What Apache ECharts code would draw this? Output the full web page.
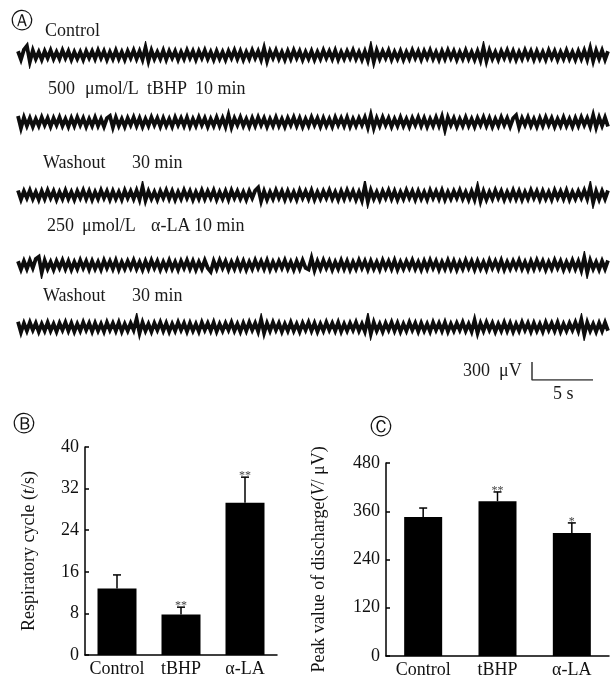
<!DOCTYPE html>
<html>
<head>
<meta charset="utf-8">
<script src="https://cdn.jsdelivr.net/npm/echarts@6/dist/echarts.min.js"></script>
<style>html,body{margin:0;padding:0;background:#fff;}#c{width:612px;height:681px;}</style>
</head>
<body>
<div id="c"></div>
<script>
// ---------- Panel A: recorded discharge traces (hand-read amplitude samples) ----------
const traceControl = [5,-6,7,12,-9,6,-5,4,-6,5,-4,6,-5,4,-5,6,-4,5,-6,4,
 -5,4,-6,5,-4,5,-5,6,-4,5,-6,4,-5,6,-5,4,-6,5,-4,6,
 -5,5,-6,10,-8,6,-5,4,-5,6,-6,5,-4,5,-6,4,-5,6,-4,5,
 -6,5,-4,6,-5,4,-6,5,-5,4,-6,5,-4,6,-5,5,-6,4,-5,6,
 -4,5,-6,9,-8,5,-4,6,-5,4,-6,5,-5,6,-4,5,-6,4,-5,5,
 -6,4,-5,6,-4,5,-5,6,-6,4,-5,5,-4,6,-5,4,-6,5,-7,10,
 -9,6,-5,5,-4,6,-6,4,-5,5,-6,4,-5,6,-4,5,-6,5,-4,6,
 -5,4,-6,5,-5,6,-4,5,-6,4,-5,6,-5,4,-6,5,-7,10,-8,6,
 -5,4,-6,5,-4,6,-5,5,-6,4,-5,6,-4,5,-6,5,-5,4,-6,6,
 -4,5,-6,4,-5,6,-5,4,-6,5,-5,6,-6,9,-8,6,-5,6,-6,5];
const traceTBHP = [8,-8,6,-5,5,-6,4,-5,6,-4,5,-6,5,-4,6,-5,4,-6,5,-5,
 6,-4,5,-6,4,-5,6,-5,4,-6,5,8,-7,6,-5,4,-6,5,-4,6,
 -5,5,-6,4,-5,6,-4,5,-6,5,-5,4,-6,6,-4,5,-5,6,-6,4,
 -5,6,-4,5,-6,4,-5,6,-5,5,-6,9,-7,5,-4,6,-5,4,-6,5,
 -5,6,-4,5,-6,4,-5,6,-5,4,-6,5,-4,6,-5,5,-6,4,-5,6,
 -4,5,-6,5,-5,4,-6,6,-4,5,-5,6,-6,4,-5,5,-4,6,-7,9,
 -8,5,-5,6,-4,5,-6,4,-5,6,-5,4,-6,5,-4,6,-5,5,-6,4,
 -5,6,-5,7,-10,6,-4,5,-6,4,-5,6,-5,4,-6,5,-4,6,-5,5,
 -6,4,-5,6,-4,5,-6,5,9,-7,5,-4,6,-5,4,-6,5,-5,6,-4,
 5,-6,4,-5,6,-5,4,-6,5,-5,6,-4,5,-6,9,-7,6,-5,6,-6];
const traceWash1 = [6,-6,5,-4,6,-5,4,-6,5,-5,6,-4,5,-6,4,-5,6,-5,4,-6,
 5,-4,6,-5,5,-6,4,-5,6,-4,5,-6,5,-5,4,-6,6,-4,5,-5,
 6,-6,11,-7,5,-5,4,-6,5,-4,6,-5,5,-6,4,-5,6,-4,5,-6,
 4,-5,6,-5,5,-4,6,-6,4,-5,5,-6,6,-4,5,-5,4,-6,5,-4,
 6,10,-8,5,-6,4,-5,6,-4,5,-6,5,-5,4,-6,6,-4,5,-5,6,
 -6,4,-5,5,-4,6,-5,4,-6,5,-5,6,-4,5,-6,4,-7,12,-9,6,
 -5,4,-6,5,-4,6,-5,5,-6,4,-5,6,-4,5,-6,5,-5,4,-6,6,
 -4,5,-5,6,-6,4,-5,5,-4,6,-5,4,-6,5,-6,10,-8,5,-6,4,
 -5,6,-4,5,-6,4,-5,6,-5,5,-6,4,-5,6,-4,5,-6,5,-5,4,
 -6,6,-4,5,-5,6,-6,4,-5,5,-4,6,-5,11,-10,5,-6,5,-5,6];
const traceALA = [5,-6,5,-5,6,-4,8,11,-10,6,-5,4,-6,5,-4,6,-5,5,-6,4,
 -5,6,-4,5,-6,5,-5,4,-6,6,-4,5,-5,6,-6,4,-5,5,-4,6,
 -5,4,-6,5,-5,6,-4,5,-6,4,-5,6,-5,4,-6,5,-4,6,-5,5,
 -6,4,-5,6,-4,-9,5,-5,6,-4,5,-6,4,-5,6,-5,5,-6,4,-5,
 6,-4,5,-5,6,-6,4,-5,5,-4,6,-5,4,-6,5,-5,6,-4,-6,9,
 -7,5,-5,6,-4,5,-6,4,-5,6,-5,5,-6,4,-5,6,-4,5,-6,5,
 -5,4,-6,6,-4,5,-5,6,-6,4,-5,5,-4,6,-5,4,-6,5,-5,6,
 -4,5,-6,4,-5,6,-5,5,-6,4,-5,6,-4,5,-6,5,-5,4,-6,6,
 -4,5,-5,6,-6,4,-5,5,-4,6,-5,4,-6,5,-5,6,-4,5,-6,4,
 -5,6,-4,5,-6,4,-5,6,-5,5,-7,10,-10,6,-5,4,-6,5,-5,6];
const traceWash2 = [7,-7,5,-5,6,-4,5,-6,4,-5,6,-5,4,-6,5,-4,6,-5,5,-6,
 4,-5,6,-4,5,-6,5,-5,4,-6,6,-4,5,-5,6,-6,4,-5,5,-4,
 11,-8,6,-5,4,-6,5,-4,6,-5,5,-6,4,-5,6,-4,5,-6,5,-5,
 4,-6,6,-4,5,-5,6,-6,4,-5,5,-4,6,-5,4,-6,5,-5,6,-4,
 5,-6,10,-8,5,-5,6,-4,5,-6,4,-5,6,-5,4,-6,5,-4,6,-5,
 5,-6,4,-5,6,-4,5,-5,6,-6,4,-5,5,-4,6,-5,4,-6,11,-9,
 6,-5,4,-6,5,-4,6,-5,5,-6,4,-5,6,-4,5,-6,5,-5,4,-6,
 6,-4,5,-5,6,-6,4,-5,5,-4,6,-5,4,-6,9,-8,5,-5,6,-4,
 5,-6,4,-5,6,-5,5,-6,4,-5,6,-4,5,-6,5,-5,4,-6,6,-4,
 5,-5,6,-6,4,-5,5,-4,6,-5,10,-10,6,-5,4,-6,5,-5,6,-5];
const traces = [traceControl, traceTBHP, traceWash1, traceALA, traceWash2];
const traceCenters = [55, 122, 195, 265, 327];

// scale bar: 300 μV, 5 s
const scaleBarVolt = 300;
const scaleBarSec = 5;

// ---------- Panel B & C ----------
const groups = ['Control', 'tBHP', 'α-LA'];
const respCycle = [12.8, 7.8, 29.3];
const respCycleSD = [2.6, 1.4, 4.9];
const respCycleSig = ['', '**', '**'];
const respTicks = [0, 8, 16, 24, 32, 40];

const peakValue = [346, 385, 306];
const peakValueSD = [22, 23, 25];
const peakValueSig = ['', '**', '*'];
const peakTicks = [0, 120, 240, 360, 480];

const SERIF = '"Liberation Serif","Times New Roman",serif';
const chart = echarts.init(document.getElementById('c'), null, {renderer: 'canvas'});

const grids = [], xAxes = [], yAxes = [], series = [];
traces.forEach((tr, i) => {
  grids.push({left: 18, width: 590, top: traceCenters[i] - 12, height: 24});
  xAxes.push({type: 'category', gridIndex: i, data: tr.map((_, k) => k), boundaryGap: false, show: false});
  yAxes.push({type: 'value', gridIndex: i, min: -16, max: 16, show: false});
  series.push({type: 'line', xAxisIndex: i, yAxisIndex: i, data: tr, symbol: 'none',
    lineStyle: {color: '#0d0d0d', width: 3.8, join: 'miter'}, silent: true});
});
// scale bar grid (index 5)
grids.push({left: 532, top: 362, width: 61, height: 18});
xAxes.push({type: 'value', gridIndex: 5, min: 0, max: scaleBarSec, show: false});
yAxes.push({type: 'value', gridIndex: 5, min: 0, max: scaleBarVolt, show: false});
series.push({type: 'line', xAxisIndex: 5, yAxisIndex: 5, symbol: 'none',
  data: [[0, scaleBarVolt], [0, 0], [scaleBarSec, 0]], lineStyle: {color: '#333', width: 1.5}, silent: true});

function barPanel(gi, grid, vals, sd, sig, ticks, nameRich, barW, gap) {
  grids.push(grid);
  xAxes.push({type: 'category', gridIndex: gi, data: groups,
    axisLine: {lineStyle: {color: '#000', width: 1.5}}, axisTick: {show: false},
    axisLabel: {color: '#111', fontFamily: SERIF, fontSize: 18, margin: 5, interval: 0}});
  yAxes.push({type: 'value', gridIndex: gi, min: ticks[0], max: ticks[ticks.length - 1],
    interval: ticks[1] - ticks[0],
    axisLine: {show: true, lineStyle: {color: '#000', width: 1.5}},
    axisTick: {show: true, inside: true, length: 4, lineStyle: {color: '#000', width: 1.5}},
    splitLine: {show: false},
    axisLabel: {color: '#111', fontFamily: SERIF, fontSize: 18, margin: 6},
    name: nameRich, nameLocation: 'middle', nameRotate: 90, nameGap: gap,
    nameTextStyle: {color: '#111', fontFamily: SERIF, fontSize: 18,
      rich: {n: {fontFamily: SERIF, fontSize: 18, color: '#111'},
             i: {fontFamily: SERIF, fontSize: 18, fontStyle: 'italic', color: '#111'}}}});
  series.push({type: 'bar', xAxisIndex: gi, yAxisIndex: gi, data: vals, barWidth: barW,
    itemStyle: {color: '#000'}, silent: true});
  series.push({type: 'custom', xAxisIndex: gi, yAxisIndex: gi, silent: true,
    data: vals.map((v, k) => [k, v, v + sd[k]]),
    renderItem: function (params, api) {
      const k = api.value(0);
      const p0 = api.coord([k, api.value(1)]);
      const p1 = api.coord([k, api.value(2)]);
      return {type: 'group', children: [
        {type: 'line', shape: {x1: p0[0], y1: p0[1], x2: p1[0], y2: p1[1]}, style: {stroke: '#000', lineWidth: 1.5}},
        {type: 'line', shape: {x1: p1[0] - 4, y1: p1[1], x2: p1[0] + 4, y2: p1[1]}, style: {stroke: '#000', lineWidth: 1.5}},
        {type: 'text', style: {text: sig[k], x: p1[0], y: p1[1] + 5, textAlign: 'center', textVerticalAlign: 'bottom',
          font: '12px ' + SERIF, fill: '#444'}}
      ]};
    }});
}
barPanel(6, {left: 85, width: 192, top: 447, height: 208}, respCycle, respCycleSD, respCycleSig, respTicks,
  '{n|Respiratory cycle (}{i|t}{n|/s)}', 39, 47);
barPanel(7, {left: 386, width: 223, top: 463, height: 193}, peakValue, peakValueSD, peakValueSig, peakTicks,
  '{n|Peak value of discharge(}{i|V}{n|/ μV)}', 38, 58);

const txt = (t, x, y) => ({type: 'text', left: x, top: y - 10, silent: true,
  style: {text: t, font: '18px ' + SERIF, fill: '#1a1a1a'}});
const circ = (t, cx, cy) => ({type: 'text', x: cx, y: cy, silent: true,
  style: {text: t, font: '22px "DejaVu Sans"', fill: '#111', textAlign: 'center', textVerticalAlign: 'middle'}});

const graphic = [
  circ('Ⓐ', 22, 22), circ('Ⓑ', 24, 425), circ('Ⓒ', 381, 428),
  txt('Control', 45, 32),
  txt('500', 48, 90), txt('μmol/L', 85, 90), txt('tBHP', 147, 90), txt('10 min', 195, 90),
  txt('Washout', 43, 164), txt('30 min', 132, 164),
  txt('250', 47, 227), txt('μmol/L', 82, 227), txt('α-LA', 151, 227), txt('10 min', 194, 227),
  txt('Washout', 43, 297), txt('30 min', 132, 297),
  txt('300  μV', 463, 372), txt('5 s', 553, 395)
];

chart.setOption({
  animation: false,
  backgroundColor: '#fff',
  grid: grids, xAxis: xAxes, yAxis: yAxes, series: series, graphic: graphic
});
</script>
</body>
</html>
